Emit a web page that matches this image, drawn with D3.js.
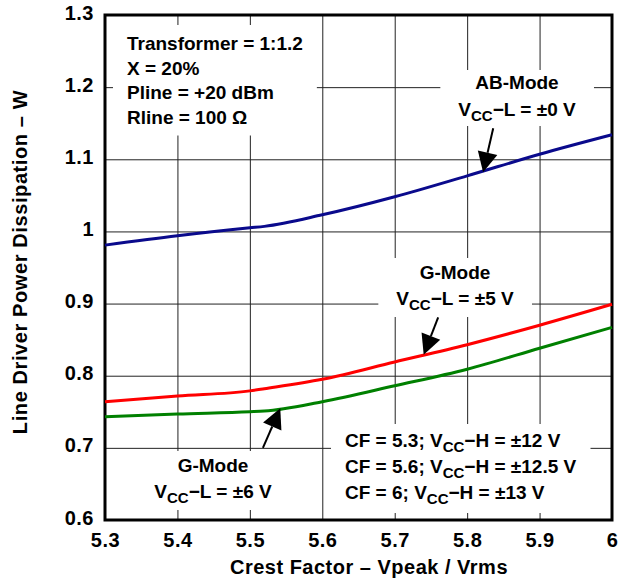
<!DOCTYPE html>
<html>
<head>
<meta charset="utf-8">
<script src="https://cdn.jsdelivr.net/npm/d3@7"></script>
<style>
  body { margin: 0; background: #fff; }
  text { font-family: "Liberation Sans", Arial, sans-serif; font-weight: bold; fill: #000; }
</style>
</head>
<body>
<div class="chart"></div>
<script>
const crestFactor = [5.3, 5.4, 5.5, 5.52, 5.6, 5.7, 5.8, 5.9, 6.0];
const abMode = [0.981, 0.994, 1.005, 1.007, 1.023, 1.048, 1.077, 1.107, 1.134];
const gMode5 = [0.764, 0.772, 0.779, 0.782, 0.795, 0.819, 0.843, 0.870, 0.899];
const gMode6 = [0.743, 0.747, 0.750, 0.751, 0.764, 0.786, 0.809, 0.838, 0.867];

const xTicks = [5.3, 5.4, 5.5, 5.6, 5.7, 5.8, 5.9, 6];
const yTicks = [0.6, 0.7, 0.8, 0.9, 1, 1.1, 1.2, 1.3];

const svgWidth = 622;
const svgHeight = 579;
const margin = { left: 105, top: 15, right: 10, bottom: 59 };

const svg = d3.select(".chart")
              .append("svg")
              .attr("width", svgWidth)
              .attr("height", svgHeight);

const xScale = d3.scaleLinear()
                 .domain([5.3, 6])
                 .range([margin.left, svgWidth - margin.right]);

const yScale = d3.scaleLinear()
                 .domain([0.6, 1.3])
                 .range([svgHeight - margin.bottom, margin.top]);

// grid
svg.append("g")
   .attr("transform", "translate(0," + (svgHeight - margin.bottom) + ")")
   .call(d3.axisBottom(xScale).tickValues(xTicks).tickSize(-(yScale(0.6) - yScale(1.3))).tickFormat(d => d3.format("")(d)))
   .call(g => g.select(".domain").remove())
   .call(g => g.selectAll(".tick line").attr("stroke", "#222").attr("stroke-width", 1))
   .call(g => g.selectAll(".tick text").attr("font-size", 20).attr("letter-spacing", 0.5).attr("dy", "0.9em").attr("y", 9));

svg.append("g")
   .attr("transform", "translate(" + margin.left + ",0)")
   .call(d3.axisLeft(yScale).tickValues(yTicks).tickSize(-(xScale(6) - xScale(5.3))).tickFormat(d => d3.format("")(d)))
   .call(g => g.select(".domain").remove())
   .call(g => g.selectAll(".tick line").attr("stroke", "#222").attr("stroke-width", 1))
   .call(g => g.selectAll(".tick text").attr("font-size", 20).attr("letter-spacing", 0.5).attr("x", -11).attr("dy", "0.2em"));

// annotation text blocks (white backgrounds cut the grid)
const notes = svg.append("g");

function addBlock(lines, x, y, anchor, lineGap, pad) {
  const g = notes.append("g");
  const rect = g.append("rect").attr("fill", "#fff");
  lines.forEach((ln, i) => {
    const t = g.append("text")
               .attr("x", x)
               .attr("y", y + i * lineGap)
               .attr("text-anchor", anchor)
               .attr("font-size", 19);
    ln.forEach(part => {
      const ts = t.append("tspan").text(part.t);
      if (part.sub) {
        ts.attr("font-size", 15).attr("dy", 5);
      } else if (part.up) {
        ts.attr("dy", -5);
      }
    });
  });
  const bb = g.node().getBBox();
  rect.attr("x", bb.x - pad[0]).attr("y", bb.y - pad[1])
      .attr("width", bb.width + 2 * pad[0]).attr("height", bb.height + 2 * pad[1]);
}

addBlock([
  [{ t: "Transformer = 1:1.2" }],
  [{ t: "X = 20%" }],
  [{ t: "Pline = +20 dBm" }],
  [{ t: "Rline = 100 Ω" }]
], 127, 50, "start", 24.5, [14, 8]);

addBlock([
  [{ t: "AB-Mode" }],
  [{ t: "V" }, { t: "CC", sub: true }, { t: "−L = ±0 V", up: true }]
], 517, 89, "middle", 27, [18, 2]);

addBlock([
  [{ t: "G-Mode" }],
  [{ t: "V" }, { t: "CC", sub: true }, { t: "−L = ±5 V", up: true }]
], 455, 279, "middle", 26, [18, 4]);

addBlock([
  [{ t: "G-Mode" }],
  [{ t: "V" }, { t: "CC", sub: true }, { t: "−L = ±6 V", up: true }]
], 213, 472, "middle", 26, [18, 4]);

addBlock([
  [{ t: "CF = 5.3; V" }, { t: "CC", sub: true }, { t: "−H = ±12 V", up: true }],
  [{ t: "CF = 5.6; V" }, { t: "CC", sub: true }, { t: "−H = ±12.5 V", up: true }],
  [{ t: "CF = 6; V" }, { t: "CC", sub: true }, { t: "−H = ±13 V", up: true }]
], 345, 447, "start", 26, [14, 6]);

// frame
svg.append("rect")
   .attr("x", xScale(5.3))
   .attr("y", yScale(1.3))
   .attr("width", xScale(6) - xScale(5.3))
   .attr("height", yScale(0.6) - yScale(1.3))
   .attr("fill", "none")
   .attr("stroke", "#000")
   .attr("stroke-width", 3);

// curves
const line = d3.line()
               .x((d, i) => xScale(crestFactor[i]))
               .y(d => yScale(d))
               .curve(d3.curveMonotoneX);

[[abMode, "#0a0a8c"], [gMode5, "#ff0000"], [gMode6, "#008000"]].forEach(([series, color]) => {
  svg.append("path")
     .datum(series)
     .attr("d", line)
     .attr("fill", "none")
     .attr("stroke", color)
     .attr("stroke-width", 3);
});

// arrows: tail -> tip in data units
const arrows = [
  { x1: 5.836, y1: 1.143, x2: 5.822, y2: 1.082 },
  { x1: 5.760, y1: 0.881, x2: 5.740, y2: 0.829 },
  { x1: 5.518, y1: 0.700, x2: 5.542, y2: 0.755 }
];

arrows.forEach(a => {
  const x1 = xScale(a.x1), y1 = yScale(a.y1), x2 = xScale(a.x2), y2 = yScale(a.y2);
  const len = Math.hypot(x2 - x1, y2 - y1);
  const ux = (x2 - x1) / len, uy = (y2 - y1) / len;
  const headLen = 20, headW = 10;
  const bx = x2 - ux * headLen, by = y2 - uy * headLen;
  svg.append("line")
     .attr("x1", x1).attr("y1", y1).attr("x2", bx).attr("y2", by)
     .attr("stroke", "#000").attr("stroke-width", 2);
  svg.append("polygon")
     .attr("points", [[x2, y2], [bx - uy * headW, by + ux * headW], [bx + uy * headW, by - ux * headW]].map(p => p.join(",")).join(" "))
     .attr("fill", "#000");
});

// axis titles
svg.append("text")
   .attr("x", 369)
   .attr("y", 574)
   .attr("text-anchor", "middle")
   .attr("font-size", 20)
   .attr("letter-spacing", 0.5)
   .text("Crest Factor – Vpeak / Vrms");

svg.append("text")
   .attr("transform", "translate(27,262) rotate(-90)")
   .attr("text-anchor", "middle")
   .attr("font-size", 20)
   .attr("letter-spacing", 0.6)
   .text("Line Driver Power Dissipation – W");
</script>
</body>
</html>
